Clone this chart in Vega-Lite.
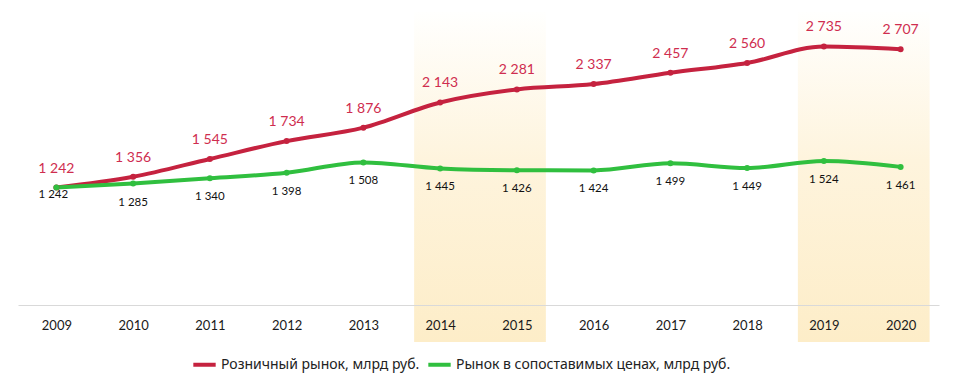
{
  "$schema": "https://vega.github.io/schema/vega-lite/v6.json",
  "width": 921,
  "height": 330,
  "autosize": "none",
  "padding": {"left": 18, "top": 12, "right": 18, "bottom": 45},
  "background": "white",
  "config": {
    "view": {"stroke": null},
    "font": "Lato, Noto Sans"
  },
  "datasets": {
    "main": [
      {"year": 2009, "series": "Розничный рынок, млрд руб.", "value": 1242},
      {"year": 2010, "series": "Розничный рынок, млрд руб.", "value": 1356},
      {"year": 2011, "series": "Розничный рынок, млрд руб.", "value": 1545},
      {"year": 2012, "series": "Розничный рынок, млрд руб.", "value": 1734},
      {"year": 2013, "series": "Розничный рынок, млрд руб.", "value": 1876},
      {"year": 2014, "series": "Розничный рынок, млрд руб.", "value": 2143},
      {"year": 2015, "series": "Розничный рынок, млрд руб.", "value": 2281},
      {"year": 2016, "series": "Розничный рынок, млрд руб.", "value": 2337},
      {"year": 2017, "series": "Розничный рынок, млрд руб.", "value": 2457},
      {"year": 2018, "series": "Розничный рынок, млрд руб.", "value": 2560},
      {"year": 2019, "series": "Розничный рынок, млрд руб.", "value": 2735},
      {"year": 2020, "series": "Розничный рынок, млрд руб.", "value": 2707},
      {"year": 2009, "series": "Рынок в сопоставимых ценах, млрд руб.", "value": 1242},
      {"year": 2010, "series": "Рынок в сопоставимых ценах, млрд руб.", "value": 1285},
      {"year": 2011, "series": "Рынок в сопоставимых ценах, млрд руб.", "value": 1340},
      {"year": 2012, "series": "Рынок в сопоставимых ценах, млрд руб.", "value": 1398},
      {"year": 2013, "series": "Рынок в сопоставимых ценах, млрд руб.", "value": 1508},
      {"year": 2014, "series": "Рынок в сопоставимых ценах, млрд руб.", "value": 1445},
      {"year": 2015, "series": "Рынок в сопоставимых ценах, млрд руб.", "value": 1426},
      {"year": 2016, "series": "Рынок в сопоставимых ценах, млрд руб.", "value": 1424},
      {"year": 2017, "series": "Рынок в сопоставимых ценах, млрд руб.", "value": 1499},
      {"year": 2018, "series": "Рынок в сопоставимых ценах, млрд руб.", "value": 1449},
      {"year": 2019, "series": "Рынок в сопоставимых ценах, млрд руб.", "value": 1524},
      {"year": 2020, "series": "Рынок в сопоставимых ценах, млрд руб.", "value": 1461}
    ],
    "bands": [
      {"start": 2014, "end": 2015},
      {"start": 2019, "end": 2020}
    ]
  },
  "layer": [
    {
      "data": {"name": "bands"},
      "mark": {
        "type": "rect",
        "xOffset": -26,
        "x2Offset": 29,
        "fill": {
          "gradient": "linear",
          "x1": 0, "y1": 0, "x2": 0, "y2": 1,
          "stops": [
            {"offset": 0, "color": "#fffffe"},
            {"offset": 0.45, "color": "#fef4dd"},
            {"offset": 1, "color": "#fdedc8"}
          ]
        }
      },
      "encoding": {
        "x": {"field": "start", "type": "quantitative", "scale": {"domain": [2008.5, 2020.5]}},
        "x2": {"field": "end"}
      }
    },
    {
      "data": {"name": "main"},
      "mark": {"type": "line", "interpolate": "monotone", "strokeWidth": 4, "point": {"filled": true, "size": 36}},
      "encoding": {
        "x": {
          "field": "year", "type": "quantitative",
          "scale": {"domain": [2008.5, 2020.5], "nice": false, "zero": false},
          "axis": {
            "title": null, "values": [2009, 2010, 2011, 2012, 2013, 2014, 2015, 2016, 2017, 2018, 2019, 2020],
            "format": "d", "ticks": false, "grid": false, "domainColor": "#d9d9d9", "domainWidth": 1,
            "offset": -37,
            "labelFontSize": 13, "labelColor": "#1a1a1a", "labelPadding": 14, "zindex": 1, "labelFont": "Lato, Noto Sans"
          }
        },
        "y": {"field": "value", "type": "quantitative", "scale": {"domain": [-392, 3100], "nice": false, "zero": false}, "axis": null},
        "color": {
          "field": "series", "type": "nominal",
          "scale": {"domain": ["Розничный рынок, млрд руб.", "Рынок в сопоставимых ценах, млрд руб."], "range": ["#c5223f", "#30bf3f"]},
          "legend": {
            "title": null, "orient": "none", "direction": "horizontal", "legendX": 173, "legendY": 339,
            "symbolType": "stroke", "symbolStrokeWidth": 4, "symbolSize": 500, "labelLimit": 400,
            "labelFontSize": 14, "labelFont": "Noto Sans", "labelColor": "#222222", "columnPadding": 0, "labelOffset": 3
          }
        }
      }
    },
    {
      "data": {"name": "main"},
      "transform": [
        {"filter": "datum.series == 'Розничный рынок, млрд руб.'"},
        {"calculate": "replace(format(datum.value, ',d'), ',', ' ')", "as": "label"}
      ],
      "mark": {"type": "text", "dy": -19, "fontSize": 14, "color": "#cf2d4f"},
      "encoding": {
        "x": {"field": "year", "type": "quantitative"},
        "y": {"field": "value", "type": "quantitative"},
        "text": {"field": "label", "type": "nominal"}
      }
    },
    {
      "data": {"name": "main"},
      "transform": [
        {"filter": "datum.series == 'Рынок в сопоставимых ценах, млрд руб.' && datum.year != 2009"},
        {"calculate": "replace(format(datum.value, ',d'), ',', ' ')", "as": "label"}
      ],
      "mark": {"type": "text", "dy": 19, "fontSize": 11.5, "color": "#111111"},
      "encoding": {
        "x": {"field": "year", "type": "quantitative"},
        "y": {"field": "value", "type": "quantitative"},
        "text": {"field": "label", "type": "nominal"}
      }
    },
    {
      "data": {"name": "main"},
      "transform": [
        {"filter": "datum.series == 'Рынок в сопоставимых ценах, млрд руб.' && datum.year == 2009"},
        {"calculate": "replace(format(datum.value, ',d'), ',', ' ')", "as": "label"}
      ],
      "mark": {"type": "text", "dy": 7, "dx": -3, "fontSize": 11.5, "color": "#111111"},
      "encoding": {
        "x": {"field": "year", "type": "quantitative"},
        "y": {"field": "value", "type": "quantitative"},
        "text": {"field": "label", "type": "nominal"}
      }
    }
  ]
}
